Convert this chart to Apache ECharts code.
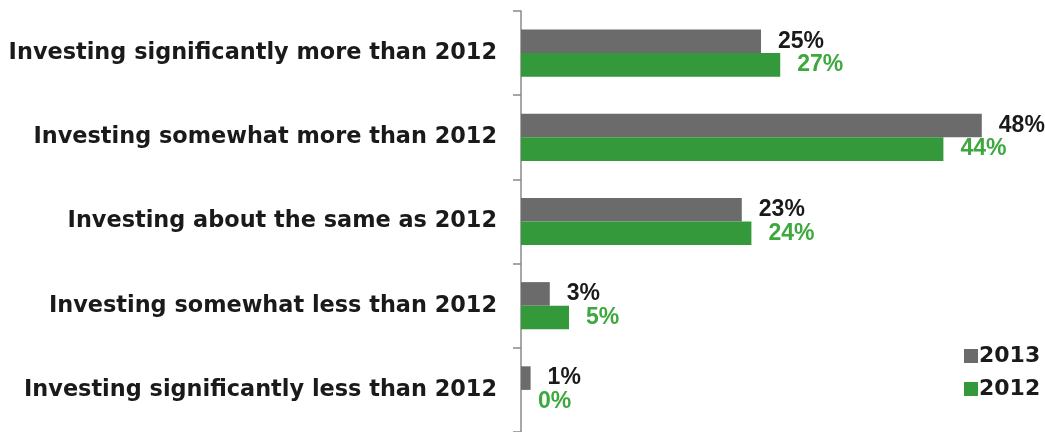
<!DOCTYPE html>
<html>
<head>
<meta charset="utf-8">
<script src="https://cdn.jsdelivr.net/npm/echarts@6/dist/echarts.min.js"></script>
<style>
  html, body { margin: 0; padding: 0; background: #fff; }
  #chart { width: 1045px; height: 432px; }
</style>
</head>
<body>
<div id="chart"></div>
<script>
  const categories = [
    'Investing significantly more than 2012',
    'Investing somewhat more than 2012',
    'Investing about the same as 2012',
    'Investing somewhat less than 2012',
    'Investing significantly less than 2012',
  ]
  const values2013 = [25, 48, 23, 3, 1]
  const values2012 = [27, 44, 24, 5, 0]

  const chart = echarts.init(document.getElementById('chart'))

  const pctLabel = (color) => ({
    show: true,
    position: 'right',
    distance: 17,
    formatter: '{c}%',
    color: color,
    fontFamily: 'Liberation Sans',
    fontWeight: 'bold',
    fontSize: 23,
  })

  const option = {
    animation: false,
    grid: { left: 521, top: 11, width: 480, bottom: -6 },
    legend: {
      orient: 'vertical',
      left: 959,
      top: 340,
      itemWidth: 14,
      itemHeight: 14,
      itemGap: 11,
      icon: 'rect',
      textStyle: {
        fontFamily: 'DejaVu Sans',
        fontWeight: 'bold',
        fontSize: 22,
        color: '#1a1a1a',
        padding: [0, 0, 0, -4],
      },
      data: ['2013', '2012'],
    },
    xAxis: {
      type: 'value',
      min: 0,
      max: 50,
      show: false,
    },
    yAxis: {
      type: 'category',
      inverse: true,
      data: categories,
      axisLine: { lineStyle: { color: '#8a8a8a', width: 1.5 } },
      axisTick: { show: true, length: 8, lineStyle: { color: '#8a8a8a', width: 1.5 } },
      axisLabel: {
        margin: 24,
        color: '#1a1a1a',
        fontFamily: 'DejaVu Sans',
        fontWeight: 'bold',
        fontSize: 22.4,
      },
      splitLine: { show: false },
    },
    series: [
      {
        name: '2013',
        type: 'bar',
        data: values2013,
        barGap: '0%',
        barCategoryGap: '44%',
        itemStyle: { color: '#6b6b6b' },
        label: pctLabel('#1a1a1a'),
      },
      {
        name: '2012',
        type: 'bar',
        data: values2012,
        itemStyle: { color: '#33993a' },
        label: pctLabel('#3da83d'),
      },
    ],
  }

  chart.setOption(option)
</script>
</body>
</html>
